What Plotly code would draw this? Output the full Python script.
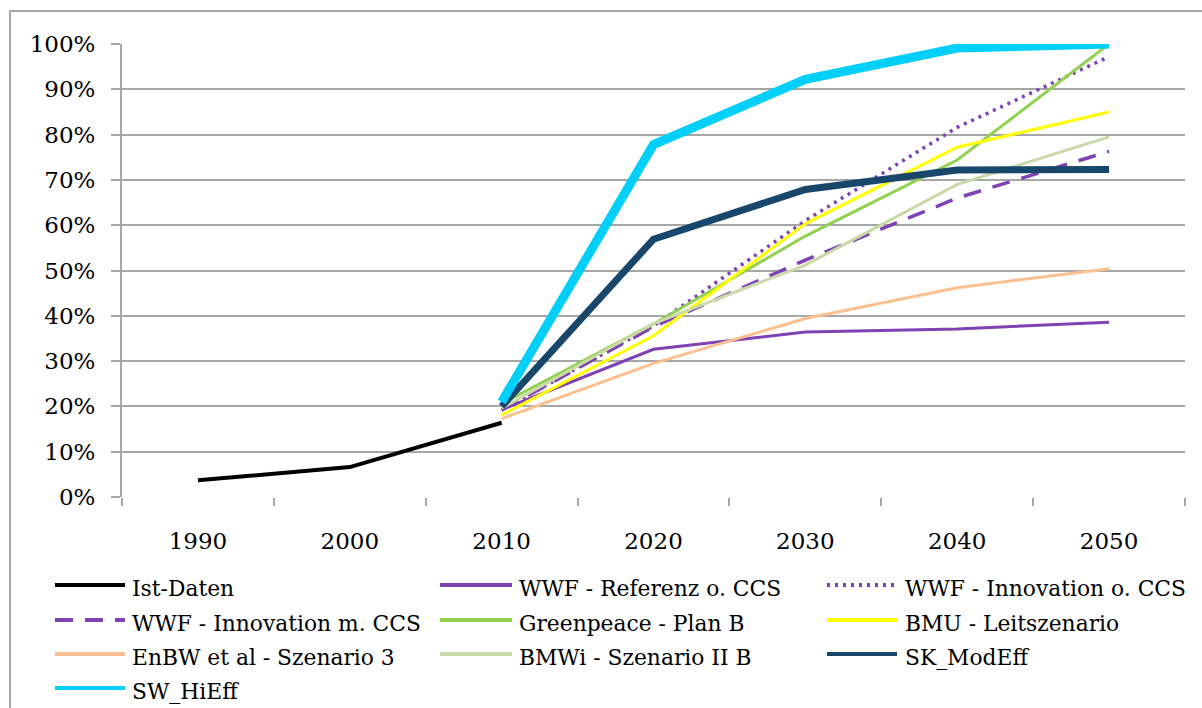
import plotly.graph_objects as go

years = ["1990", "2000", "2010", "2020", "2030", "2040", "2050"]
y_ticks = [0, 10, 20, 30, 40, 50, 60, 70, 80, 90, 100]
y_tick_labels = [f"{v}%" for v in y_ticks]

ist_daten = [3.7, 6.6, 16.4, None, None, None, None]
wwf_referenz = [None, None, 19.3, 32.6, 36.4, 37.1, 38.6]
wwf_innov_o_ccs = [None, None, 19.2, 37.8, 61.0, 81.6, 97.2]
wwf_innov_m_ccs = [None, None, 19.2, 37.6, 52.3, 66.0, 76.3]
greenpeace = [None, None, 20.6, 38.2, 57.6, 74.4, 100.0]
bmu = [None, None, 18.1, 35.6, 60.3, 77.2, 85.0]
enbw = [None, None, 17.3, 29.5, 39.4, 46.2, 50.4]
bmwi = [None, None, 19.6, 38.3, 51.2, 69.0, 79.5]
sk_modeff = [None, None, 20.0, 56.9, 67.9, 72.2, 72.3]
sw_hieff = [None, None, 21.0, 77.8, 92.2, 99.1, 100.0]

series = [
    ("Ist-Daten", ist_daten, "#000000", 4, "solid"),
    ("WWF - Referenz o. CCS", wwf_referenz, "#7E42B4", 3, "solid"),
    ("WWF - Innovation o. CCS", wwf_innov_o_ccs, "#7E42B4", 3.5, "3px,5px"),
    ("WWF - Innovation m. CCS", wwf_innov_m_ccs, "#7E42B4", 3.5, "18px,12px"),
    ("Greenpeace - Plan B", greenpeace, "#92D050", 3, "solid"),
    ("BMU - Leitszenario", bmu, "#FFFF00", 3, "solid"),
    ("EnBW et al - Szenario 3", enbw, "#FAC090", 3, "solid"),
    ("BMWi - Szenario II B", bmwi, "#C9D9A8", 3, "solid"),
    ("SK_ModEff", sk_modeff, "#19476C", 7, "solid"),
    ("SW_HiEff", sw_hieff, "#00CFFA", 9, "solid"),
]

FONT = "DejaVu Serif"
GRID = "#A6A6A6"

# plot-area geometry (pixels) used only for legend / frame placement
PL, PW, PT, PH = 122, 1063, 44, 453


def px_x(px):
    return (px - PL) / PW


def px_y(py):
    return (PT + PH - py) / PH


fig = go.Figure()
for name, vals, color, width, dash in series:
    fig.add_trace(go.Scatter(
        x=years, y=vals, name=name, mode="lines",
        line=dict(color=color, width=width, dash=dash),
        connectgaps=False, showlegend=False,
    ))

fig.update_xaxes(
    type="category", range=[-0.5, 6.5],
    showgrid=False, showline=False, zeroline=False,
    ticks="outside", tickson="boundaries", ticklen=8, tickwidth=2, tickcolor=GRID,
    tickfont=dict(family=FONT, size=23, color="#000000"),
    ticklabelstandoff=28,
)
fig.update_yaxes(
    range=[0, 100], tickvals=y_ticks, ticktext=y_tick_labels,
    showgrid=True, gridcolor=GRID, gridwidth=2,
    showline=True, linecolor=GRID, linewidth=2, zeroline=False,
    ticks="outside", ticklen=9, tickwidth=2, tickcolor=GRID,
    tickfont=dict(family=FONT, size=23, color="#000000"),
    ticklabelstandoff=11,
)

# outer chart frame
fig.add_shape(type="rect", xref="paper", yref="paper",
              x0=px_x(10), x1=1.2, y0=-0.6, y1=px_y(11),
              line=dict(color=GRID, width=2), layer="below")

# legend (3 columns) drawn as line swatches + text
col_line_x0 = [55, 440, 827]
col_line_x1 = [125, 512, 897]
col_text_x = [130, 517, 903]
row_y = [585, 620, 654, 688]
for i, (name, vals, color, width, dash) in enumerate(series):
    r, c = divmod(i, 3)
    fig.add_shape(type="line", xref="paper", yref="paper",
                  x0=px_x(col_line_x0[c]), x1=px_x(col_line_x1[c]),
                  y0=px_y(row_y[r]), y1=px_y(row_y[r]),
                  line=dict(color=color, width=4, dash=dash))
    fig.add_annotation(xref="paper", yref="paper",
                       x=px_x(col_text_x[c]), y=px_y(row_y[r] + 3),
                       xanchor="left", yanchor="middle", showarrow=False,
                       text=name, font=dict(family=FONT, size=21.8, color="#000000"))

fig.update_layout(
    width=1202, height=708,
    margin=dict(l=PL, r=1202 - PL - PW, t=PT, b=708 - PT - PH),
    plot_bgcolor="white", paper_bgcolor="white",
    font=dict(family=FONT, size=22, color="#000000"),
    showlegend=False,
)

fig.write_html(
    "out.html",
    config={"displayModeBar": False},
    post_script="document.body.style.margin='0';document.body.style.overflow='hidden';",
)
